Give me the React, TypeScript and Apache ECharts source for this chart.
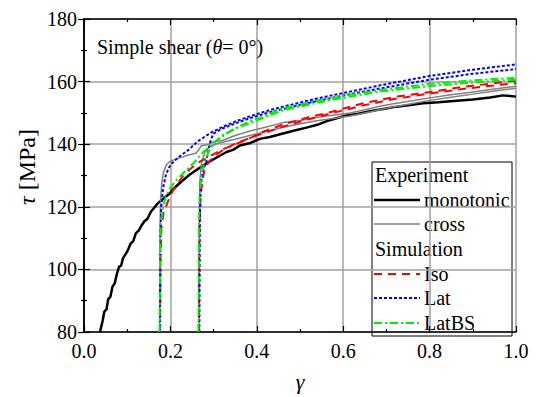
import React, { useEffect, useRef } from "react";
import * as echarts from "echarts";

const xTicks = [0, 0.2, 0.4, 0.6, 0.8, 1.0];
const yTicks = [80, 100, 120, 140, 160, 180];

const monotonic: number[][] = [
  [0.037, 80], [0.043, 83.5], [0.047, 86.5], [0.052, 87.2], [0.056, 90.5], [0.061, 91.2],
  [0.066, 94.5], [0.071, 95.5], [0.076, 98.5], [0.081, 100.8], [0.086, 101.2], [0.090, 103.5],
  [0.096, 104.8], [0.101, 106], [0.108, 108.3], [0.114, 109], [0.120, 111.5], [0.127, 112.5],
  [0.133, 114], [0.140, 115.4], [0.147, 116.2], [0.155, 118.5], [0.162, 119.6], [0.170, 121],
  [0.18, 122.2], [0.19, 123.3], [0.199, 124.3], [0.206, 125.6], [0.225, 128], [0.245, 130.3],
  [0.265, 132.2], [0.284, 133.9], [0.305, 135.6], [0.330, 137.5], [0.345, 138.2], [0.361, 139.6],
  [0.385, 140.4], [0.407, 141.7], [0.43, 142.3], [0.454, 143.2], [0.485, 144.3], [0.515, 145.3],
  [0.54, 146.2], [0.562, 147.4], [0.593, 148.6], [0.608, 149.2], [0.635, 149.7], [0.662, 150.5],
  [0.69, 151.2], [0.724, 152], [0.755, 152.5], [0.785, 153.1], [0.82, 153.4], [0.863, 153.9],
  [0.9, 154.3], [0.94, 154.9], [0.97, 155.6], [1.0, 155.2],
];

const cross1: number[][] = [
  [0.175, 80], [0.176, 110], [0.177, 122], [0.180, 127.5], [0.184, 131], [0.191, 133.5],
  [0.2, 134.6], [0.215, 135.3], [0.238, 136.4], [0.26, 137.2], [0.272, 139.5], [0.285, 139.8],
  [0.3, 140.8], [0.32, 141.2], [0.35, 142.8], [0.384, 144.2], [0.42, 145.4], [0.461, 146.9],
  [0.5, 147.6], [0.539, 148.5], [0.58, 149.3], [0.616, 150], [0.65, 151], [0.685, 152.1],
  [0.72, 153], [0.76, 153.9], [0.8, 154.8], [0.85, 155.8], [0.9, 156.7], [0.95, 157.6], [1.0, 158.5],
];

const cross2: number[][] = [
  [0.266, 80], [0.267, 115], [0.268, 128], [0.272, 134], [0.28, 137.5], [0.29, 139.2],
  [0.31, 140.3], [0.35, 141.6], [0.384, 142.8], [0.42, 144], [0.461, 145.4], [0.5, 146.5],
  [0.539, 147.5], [0.58, 148.3], [0.616, 149], [0.65, 150], [0.685, 151], [0.72, 152],
  [0.76, 153], [0.8, 154], [0.85, 155], [0.9, 156], [0.95, 157], [1.0, 157.9],
];

const iso1: number[][] = [
  [0.176, 80], [0.177, 105], [0.179, 113], [0.184, 118], [0.195, 122], [0.207, 125.6],
  [0.23, 130], [0.25, 132.6], [0.268, 134.4], [0.3, 136.8], [0.325, 138.6], [0.34, 139.4],
  [0.392, 142.4], [0.407, 143.6], [0.461, 146.3], [0.52, 148.6], [0.569, 150.2], [0.646, 153.1],
  [0.724, 155.2], [0.801, 156.7], [0.877, 158.3], [0.95, 159.5], [1.0, 160.3],
];

const iso2: number[][] = [
  [0.266, 80], [0.267, 112], [0.270, 124], [0.275, 129], [0.28, 132.5], [0.29, 134.5],
  [0.3, 136], [0.32, 138], [0.35, 140.2], [0.4, 142.8], [0.46, 145.6], [0.52, 148],
  [0.57, 149.8], [0.65, 152.5], [0.72, 154.5], [0.8, 156.2], [0.88, 157.7], [0.95, 158.8], [1.0, 159.5],
];

const lat1: number[][] = [
  [0.176, 80], [0.177, 112], [0.179, 120], [0.183, 126], [0.19, 130.5], [0.2, 133.4],
  [0.218, 135.8], [0.241, 138.1], [0.264, 141], [0.295, 143.8], [0.325, 145.8], [0.353, 147.4],
  [0.384, 148.9], [0.42, 150.5], [0.461, 152], [0.539, 154.6], [0.616, 156.8], [0.685, 158.8],
  [0.8, 161.8], [0.9, 163.8], [1.0, 165.5],
];

const lat2: number[][] = [
  [0.267, 80], [0.268, 115], [0.270, 126], [0.274, 131], [0.283, 134.5], [0.288, 138],
  [0.293, 141.2], [0.3, 143.4], [0.32, 145], [0.353, 146.8], [0.384, 148.3], [0.42, 149.8],
  [0.461, 151.3], [0.539, 153.8], [0.616, 156], [0.685, 157.8], [0.8, 160.6], [0.9, 162.5], [1.0, 164],
];

const latbs1: number[][] = [
  [0.175, 80], [0.176, 108], [0.178, 115], [0.183, 120], [0.19, 123.5], [0.2, 126],
  [0.21, 128], [0.23, 130.8], [0.253, 133.9], [0.276, 137.5], [0.307, 141.2], [0.346, 144.8],
  [0.384, 147.4], [0.407, 148.4], [0.461, 151.5], [0.539, 153.8], [0.616, 155.8], [0.685, 157.3],
  [0.801, 159.3], [0.9, 160.4], [1.0, 161.2],
];

const latbs2: number[][] = [
  [0.265, 80], [0.266, 115], [0.268, 124], [0.272, 130], [0.278, 134], [0.288, 137.5],
  [0.3, 140.3], [0.32, 142.8], [0.35, 145], [0.4, 147.6], [0.461, 150.8], [0.539, 153.2],
  [0.616, 155.2], [0.685, 156.8], [0.8, 158.6], [0.9, 159.7], [1.0, 160.6],
];

const legendItems = [
  { kind: "header", label: "Experiment" },
  { kind: "line", label: "monotonic", color: "#000000", width: 2.5, dash: null as number[] | null },
  { kind: "line", label: "cross", color: "#808080", width: 1.5, dash: null as number[] | null },
  { kind: "header", label: "Simulation" },
  { kind: "line", label: "Iso", color: "#ff0000", width: 2, dash: [8, 6] },
  { kind: "line", label: "Lat", color: "#0000ff", width: 2, dash: [3, 2] },
  { kind: "line", label: "LatBS", color: "#00ee00", width: 2, dash: [8, 3, 2, 3] },
];

const FONT = "Liberation Serif";

export default function App() {
  const ref = useRef<HTMLDivElement>(null);
  useEffect(() => {
    if (!ref.current) return;
    const chart = echarts.init(ref.current, null, { renderer: "svg" });

    const mkLine = (name: string, data: number[][], color: string, width: number, type: any, z: number) => ({
      name,
      type: "line",
      data,
      showSymbol: false,
      symbol: "none",
      clip: true,
      z,
      lineStyle: { color, width, type },
    });

    const axisCommon = {
      axisLine: { show: true, lineStyle: { color: "#000", width: 1.5 } },
      axisTick: { show: true, inside: true, length: 6, lineStyle: { color: "#000", width: 1.2 } },
      minorTick: { show: true, splitNumber: 2, length: 3, lineStyle: { color: "#000", width: 1.2 } },
    };

    const txt = (text: string, x: number, y: number) => ({
      type: "text",
      x,
      y,
      style: {
        text,
        fontSize: 20,
        fontFamily: FONT,
        fill: "#000",
        verticalAlign: "middle",
        align: "left",
      },
    });

    const legendTop = 162;
    const legendLeft = 372;
    const rowY = [175, 200, 224, 249, 274, 298, 323];
    const legendChildren: any[] = [
      {
        type: "rect",
        shape: { x: legendLeft, y: legendTop, width: 140, height: 174 },
        style: { fill: "#fff", stroke: "#000", lineWidth: 1 },
      },
    ];
    legendItems.forEach((it, i) => {
      const y = rowY[i];
      if (it.kind === "header") {
        legendChildren.push(txt(it.label, 375, y));
      } else {
        legendChildren.push({
          type: "line",
          shape: { x1: 374, y1: y, x2: 420, y2: y },
          style: { stroke: it.color, lineWidth: it.width, lineDash: it.dash || undefined },
        });
        legendChildren.push(txt(it.label, 424, y));
      }
    });

    chart.setOption({
      animation: false,
      backgroundColor: "#fff",
      textStyle: { fontFamily: FONT },
      grid: { left: 84, right: 21, top: 19, bottom: 55, containLabel: false },
      xAxis: [
        {
          type: "value",
          min: xTicks[0],
          max: xTicks[xTicks.length - 1],
          interval: 0.2,
          position: "bottom",
          ...axisCommon,
          axisLabel: {
            color: "#000",
            fontSize: 20,
            fontFamily: FONT,
            margin: 9,
            formatter: (v: number) => v.toFixed(1),
          },
          splitLine: { show: true, lineStyle: { color: "#a0a0a0", width: 1.5 } },
          name: "γ",
          nameLocation: "middle",
          nameGap: 38,
          nameTextStyle: { fontSize: 22, fontStyle: "italic", fontFamily: FONT, color: "#000" },
        },
        {
          type: "value",
          min: xTicks[0],
          max: xTicks[xTicks.length - 1],
          interval: 0.2,
          position: "top",
          ...axisCommon,
          axisLabel: { show: false },
          splitLine: { show: false },
        },
      ],
      yAxis: [
        {
          type: "value",
          min: yTicks[0],
          max: yTicks[yTicks.length - 1],
          interval: 20,
          position: "left",
          ...axisCommon,
          axisLabel: { color: "#000", fontSize: 20, fontFamily: FONT, margin: 7 },
          splitLine: { show: true, lineStyle: { color: "#a0a0a0", width: 1.5 } },
        },
        {
          type: "value",
          min: yTicks[0],
          max: yTicks[yTicks.length - 1],
          interval: 20,
          position: "right",
          ...axisCommon,
          axisLabel: { show: false },
          splitLine: { show: false },
        },
      ],
      series: [
        mkLine("monotonic", monotonic, "#000000", 2.5, "solid", 3),
        mkLine("cross", cross1, "#808080", 1.5, "solid", 3),
        mkLine("cross", cross2, "#808080", 1.5, "solid", 3),
        mkLine("Iso", iso1, "#ff0000", 2, [8, 6], 4),
        mkLine("Iso", iso2, "#ff0000", 2, [8, 6], 4),
        mkLine("Lat", lat1, "#0000ff", 2, [3, 2], 4),
        mkLine("Lat", lat2, "#0000ff", 2, [3, 2], 4),
        mkLine("LatBS", latbs1, "#00ee00", 2, [8, 3, 2, 3], 4),
        mkLine("LatBS", latbs2, "#00ee00", 2, [8, 3, 2, 3], 4),
      ],
      graphic: [
        {
          type: "text",
          x: 97,
          y: 47,
          z: 10,
          style: {
            text: "{n|Simple shear (}{i|θ}{n|= 0°)}",
            verticalAlign: "middle",
            align: "left",
            fontFamily: FONT,
            fontSize: 20,
            rich: {
              n: { fontSize: 20, fontFamily: FONT, fill: "#000" },
              i: { fontSize: 20, fontFamily: FONT, fontStyle: "italic", fill: "#000" },
            },
          },
        },
        {
          type: "text",
          x: 27,
          y: 167,
          rotation: Math.PI / 2,
          z: 10,
          style: {
            text: "{i|τ} {n|[MPa]}",
            align: "center",
            verticalAlign: "middle",
            fontFamily: FONT,
            fontSize: 24,
            rich: {
              n: { fontSize: 24, fontFamily: FONT, fill: "#000" },
              i: { fontSize: 24, fontFamily: FONT, fontStyle: "italic", fill: "#000" },
            },
          },
        },
        { type: "group", z: 20, children: legendChildren },
      ],
    });

    return () => chart.dispose();
  }, []);

  return <div ref={ref} style={{ width: 537, height: 397, position: "absolute", left: 0, top: 0 }} />;
}
